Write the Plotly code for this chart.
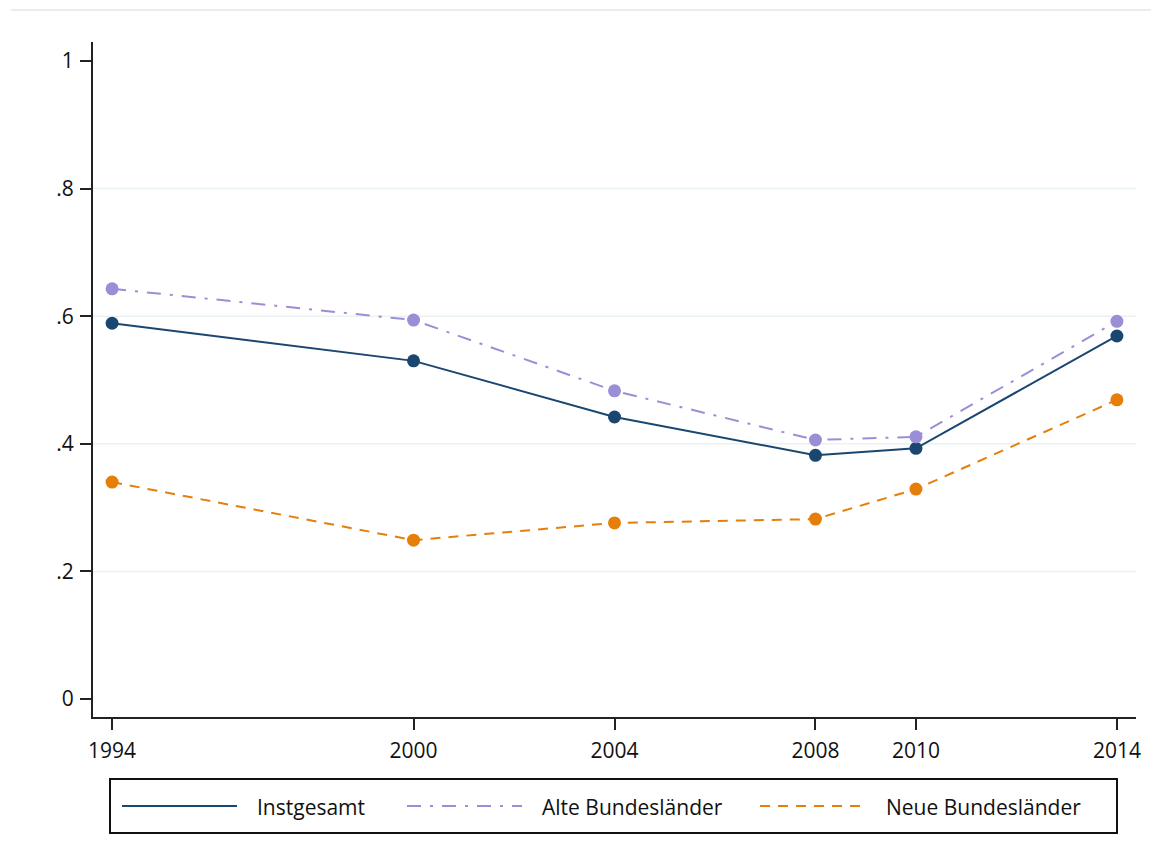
import plotly.graph_objects as go

years = [1994, 2000, 2004, 2008, 2010, 2014]
insgesamt = [0.589, 0.530, 0.442, 0.382, 0.393, 0.569]
alte = [0.643, 0.594, 0.483, 0.406, 0.411, 0.592]
neue = [0.340, 0.249, 0.276, 0.282, 0.329, 0.469]
series_names = ["Instgesamt", "Alte Bundesländer", "Neue Bundesländer"]
y_ticks = [0, 0.2, 0.4, 0.6, 0.8, 1]
y_tick_text = ["0", ".2", ".4", ".6", ".8", "1"]

colors = ["#1a476f", "#9a8fd6", "#e67e0a"]
dashes = ["solid", "14px,9px,3px,9px", "10px,8px"]

W, H = 1159, 866
OFF = 8  # page body offset
L, R, T, B = 93, 1136, 42, 717  # target pixel positions in the screenshot

fig = go.Figure()
for vals, name, c, d in zip([insgesamt, alte, neue], series_names, colors, dashes):
    fig.add_trace(go.Scatter(
        x=years, y=vals, name=name, mode="lines+markers",
        line=dict(color=c, width=2, dash=d),
        marker=dict(color=c, size=13, symbol="circle", line=dict(width=0)),
        showlegend=False,
    ))

def px(xp):
    return (xp - L) / (R - L)

def py(yp):
    return (B - yp) / (B - T)

shapes = []
for v in y_ticks[1:-1]:
    shapes.append(dict(type="line", xref="paper", yref="y", x0=0, x1=1, y0=v, y1=v,
                       line=dict(color="#eaf2f3", width=1.5), layer="below"))
shapes.append(dict(type="line", xref="paper", yref="paper", x0=px(11), x1=px(1159),
                   y0=py(10), y1=py(10), line=dict(color="#e7eeee", width=2)))
shapes.append(dict(type="rect", xref="paper", yref="paper", x0=px(110), x1=px(1117),
                   y0=py(833), y1=py(779), line=dict(color="#111111", width=2),
                   fillcolor="rgba(0,0,0,0)"))
annotations = []
leg_items = [(122, 237, 255), (407, 522, 540), (760, 866, 884)]
for (s0, s1, tx), name, c, d in zip(leg_items, series_names, colors, dashes):
    shapes.append(dict(type="line", xref="paper", yref="paper", x0=px(s0), x1=px(s1),
                       y0=py(806), y1=py(806), line=dict(color=c, width=2, dash=d)))
    annotations.append(dict(text=name, xref="paper", yref="paper", x=px(tx), y=py(807),
                            xanchor="left", yanchor="middle", showarrow=False,
                            font=dict(size=21, color="#111111")))

fig.update_layout(
    width=W, height=H,
    margin=dict(l=L - OFF, r=W - R + OFF, t=T - OFF, b=H - B + OFF, pad=0),
    paper_bgcolor="white", plot_bgcolor="white",
    font=dict(family="Open Sans", size=21, color="#111111"),
    shapes=shapes, annotations=annotations,
    xaxis=dict(range=[1993.62, 2014.38], tickvals=years, ticktext=[str(y) for y in years],
               showgrid=False, zeroline=False, showline=True, linecolor="#222222", linewidth=2,
               ticks="outside", ticklen=11, tickwidth=2, tickcolor="#222222",
               ticklabelstandoff=3),
    yaxis=dict(range=[-0.0282, 1.0298], tickvals=y_ticks, ticktext=y_tick_text,
               showgrid=False, zeroline=False, showline=True, linecolor="#222222", linewidth=2,
               ticks="outside", ticklen=11, tickwidth=2, tickcolor="#222222",
               ticklabelstandoff=2),
)

fig.write_html("out.html")
